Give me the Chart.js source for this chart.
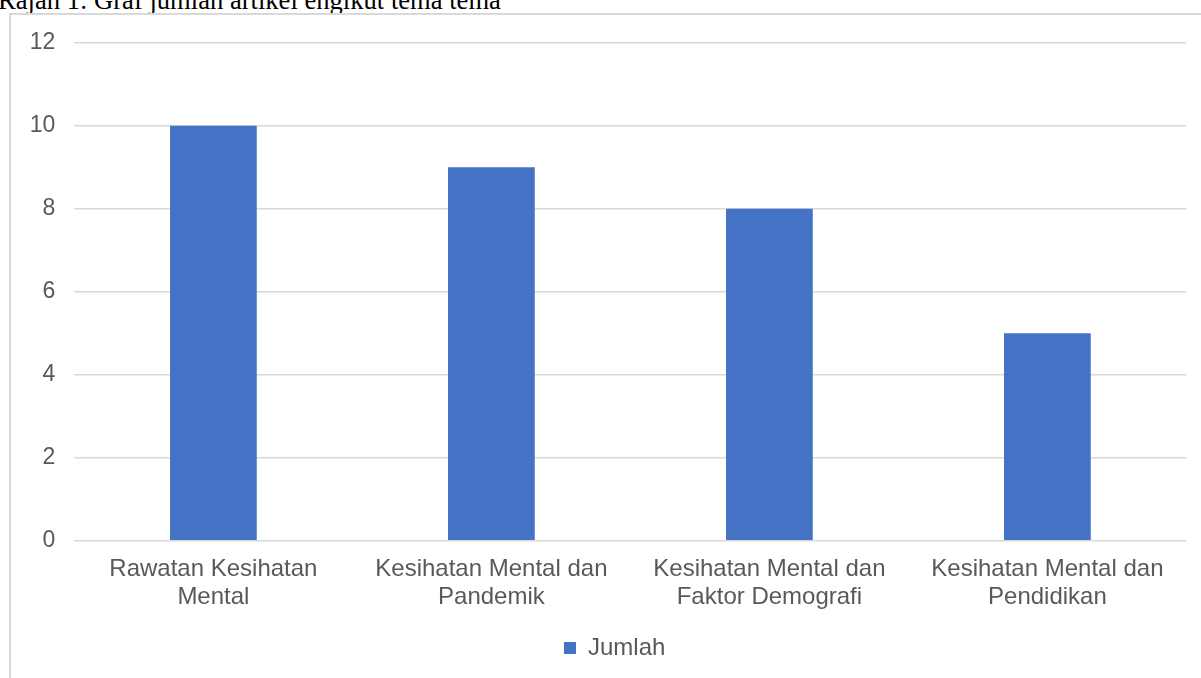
<!DOCTYPE html>
<html>
<head>
<meta charset="utf-8">
<script src="https://cdn.jsdelivr.net/npm/chart.js@4/dist/chart.umd.min.js"></script>
<style>
  html, body { margin: 0; padding: 0; background: #fff; overflow: hidden; }
  body { width: 1201px; height: 678px; position: relative; }
  .caption {
    position: absolute; left: -2px; top: -13px;
    font-family: "Liberation Serif", "Times New Roman", serif;
    font-size: 26.6px; line-height: 26.6px; color: #000; white-space: nowrap;
  }
  .frame {
    position: absolute; left: 9px; top: 13px; width: 1200px; height: 700px;
    border: 2px solid #d9d9d9; box-sizing: border-box;
  }
  #chart { position: absolute; left: 11px; top: 15px; }
</style>
</head>
<body>
<div class="caption">Rajah 1: Graf jumlah artikel engikut tema tema</div>
<div class="frame"></div>
<canvas id="chart" width="1190" height="663"></canvas>
<script>
const categories = [
  ['Rawatan Kesihatan', 'Mental'],
  ['Kesihatan Mental dan', 'Pandemik'],
  ['Kesihatan Mental dan', 'Faktor Demografi'],
  ['Kesihatan Mental dan', 'Pendidikan']
];
const jumlah = [10, 9, 8, 5];
const seriesName = 'Jumlah';

const textColor = '#595959';
const fontFamily = '"Liberation Sans", Arial, sans-serif';

// nudges the legend so the box sits where the original one does
const legendShift = {
  id: 'legendShift',
  afterLayout(chart) {
    if (chart.legend) {
      chart.legend.left += 16;
      chart.legend.right += 16;
    }
  }
};

new Chart(document.getElementById('chart').getContext('2d'), {
  type: 'bar',
  data: {
    labels: categories,
    datasets: [{
      label: seriesName,
      data: jumlah,
      backgroundColor: '#4472C4',
      borderWidth: 0,
      categoryPercentage: 1,
      barPercentage: 0.312
    }]
  },
  options: {
    responsive: false,
    devicePixelRatio: 1,
    animation: false,
    layout: { padding: { left: 0, right: 14.6, top: 27.8, bottom: 8 } },
    plugins: {
      legend: {
        position: 'bottom',
        labels: {
          boxWidth: 12,
          boxHeight: 12,
          padding: 10,
          color: textColor,
          font: { family: fontFamily, size: 24 }
        }
      },
      tooltip: { enabled: false }
    },
    scales: {
      x: {
        grid: { display: false, drawTicks: false },
        border: { display: false },
        ticks: {
          color: textColor,
          padding: 15,
          maxRotation: 0,
          autoSkip: false,
          font: { family: fontFamily, size: 24, lineHeight: 1.17 }
        },
        afterFit(scale) { scale.height = 85.3; }
      },
      y: {
        min: 0,
        max: 12,
        grid: { color: '#d9d9d9', lineWidth: 1.5, drawTicks: false },
        border: { display: false },
        ticks: {
          stepSize: 2,
          color: textColor,
          padding: 19,
          font: { family: fontFamily, size: 23 }
        },
        afterFit(scale) {
          scale.width = 63.4;
          scale.paddingTop = 0;
          scale.paddingBottom = 0;
        }
      }
    }
  },
  plugins: [legendShift]
});
</script>
</body>
</html>
